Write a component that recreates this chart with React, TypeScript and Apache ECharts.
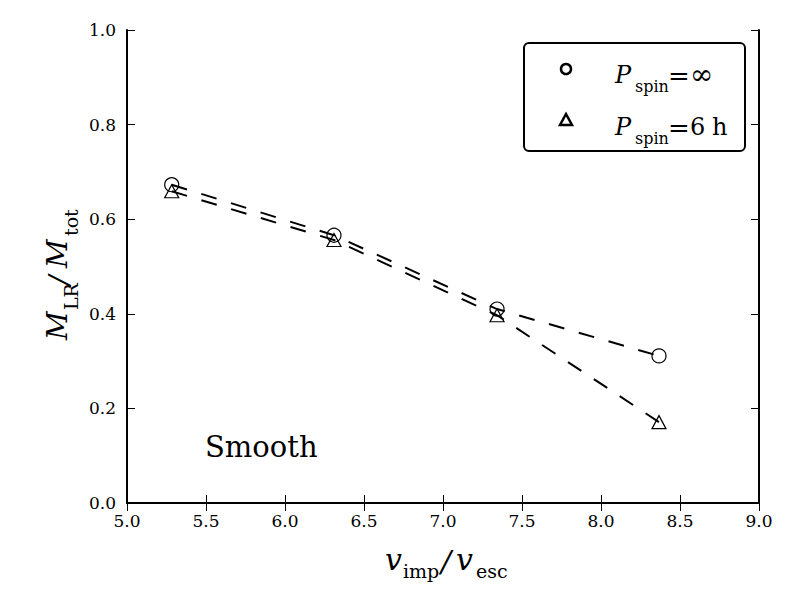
import React, { useEffect, useRef } from "react";
import * as echarts from "echarts";

const xValues = [5.283, 6.31, 7.342, 8.367];
const circleValues = [0.673, 0.566, 0.41, 0.311];
const triangleValues = [0.659, 0.556, 0.397, 0.171];
const xTicks = { min: 5, max: 9, interval: 0.5 };
const yTicks = { min: 0, max: 1, interval: 0.2 };

const SERIF = "DejaVu Serif";

function txt(text: string, x: number, baseline: number, size: number, italic = false) {
  return {
    type: "text",
    x,
    y: baseline - 0.34 * size,
    silent: true,
    style: {
      text,
      fontSize: size,
      fontFamily: SERIF,
      fontStyle: italic ? "italic" : "normal",
      fill: "#000",
      align: "left",
      verticalAlign: "middle",
      textAlign: "left",
      textVerticalAlign: "middle",
    },
  };
}

export default function App() {
  const ref = useRef<HTMLDivElement>(null);
  useEffect(() => {
    if (!ref.current) return;
    const chart = echarts.init(ref.current, undefined, { renderer: "svg" });
    const pts = (ys: number[]) => xValues.map((x, i) => [x, ys[i]]);
    const axisCommon = {
      type: "value",
      axisLine: { show: true, lineStyle: { color: "#000", width: 2 } },
      axisTick: { show: true, inside: true, length: 8, lineStyle: { color: "#000", width: 1 } },
      splitLine: { show: false },
    };
    const fmt = (v: number) => v.toFixed(1);
    const labelStyle = { fontFamily: SERIF, fontSize: 17, color: "#000", formatter: fmt };
    chart.setOption({
      animation: false,
      backgroundColor: "#fff",
      textStyle: { fontFamily: SERIF },
      grid: { left: 127, right: 41, top: 30, bottom: 97, containLabel: false },
      xAxis: [
        { ...axisCommon, ...xTicks, position: "bottom", axisLabel: { ...labelStyle, margin: 9 } },
        { ...axisCommon, ...xTicks, position: "top", axisLabel: { show: false } },
      ],
      yAxis: [
        { ...axisCommon, ...yTicks, position: "left", axisLabel: { ...labelStyle, margin: 11 } },
        { ...axisCommon, ...yTicks, position: "right", axisLabel: { show: false } },
      ],
      series: [
        {
          type: "line",
          name: "circle",
          data: pts(circleValues),
          xAxisIndex: 0,
          yAxisIndex: 0,
          symbol: "circle",
          symbolSize: 14,
          lineStyle: { color: "#000", width: 2, type: [16, 15] },
          itemStyle: { color: "rgba(0,0,0,0)", borderColor: "#000", borderWidth: 1.2 },
          z: 3,
        },
        {
          type: "line",
          name: "triangle",
          data: pts(triangleValues),
          xAxisIndex: 0,
          yAxisIndex: 0,
          symbol: "triangle",
          symbolSize: [14, 13],
          lineStyle: { color: "#000", width: 2, type: [16, 15] },
          itemStyle: { color: "rgba(0,0,0,0)", borderColor: "#000", borderWidth: 1.2 },
          z: 3,
        },
      ],
      graphic: [
        // x-axis title
        txt("v", 385, 570, 30, true),
        txt("imp", 403, 577, 19),
        txt("/", 441, 572, 30, true),
        txt("v", 456, 570, 30, true),
        txt("esc", 476, 577, 19),
        // y-axis title (rotated)
        {
          type: "group",
          x: 67,
          y: 340,
          rotation: Math.PI / 2,
          children: [
            txt("M", 0, 0, 28, true),
            txt("LR", 30, 10, 19),
            txt("/", 55, 2, 28, true),
            txt("M", 72, 0, 28, true),
            txt("tot", 104, 10, 19),
          ],
        },
        // "Smooth" annotation
        txt("Smooth", 205, 457, 29),
        // legend box
        {
          type: "rect",
          shape: { x: 524, y: 43, width: 221, height: 108, r: 5 },
          style: { fill: "#fff", stroke: "#000", lineWidth: 2 },
          z: 10,
        },
        {
          type: "circle",
          shape: { cx: 566, cy: 69, r: 5 },
          style: { fill: "none", stroke: "#000", lineWidth: 2.5 },
          z: 11,
        },
        {
          type: "polygon",
          shape: { points: [[566, 114], [572, 125], [560, 125]] },
          style: { fill: "none", stroke: "#000", lineWidth: 2.5 },
          z: 11,
        },
        { ...txt("P", 615, 83, 24, true), z: 11 },
        { ...txt("spin", 635, 92, 16), z: 11 },
        { ...txt("=", 668, 84.5, 26), z: 11 },
        { ...txt("∞", 690, 84, 28), z: 11 },
        { ...txt("P", 615, 135, 24, true), z: 11 },
        { ...txt("spin", 635, 144, 16), z: 11 },
        { ...txt("=", 668, 136.5, 26), z: 11 },
        { ...txt("6", 690, 135, 24), z: 11 },
        { ...txt("h", 712, 135, 24), z: 11 },
      ],
    });
    return () => chart.dispose();
  }, []);
  return (
    <div
      ref={ref}
      style={{ position: "absolute", left: 0, top: 0, width: 800, height: 600, background: "#fff" }}
    />
  );
}
